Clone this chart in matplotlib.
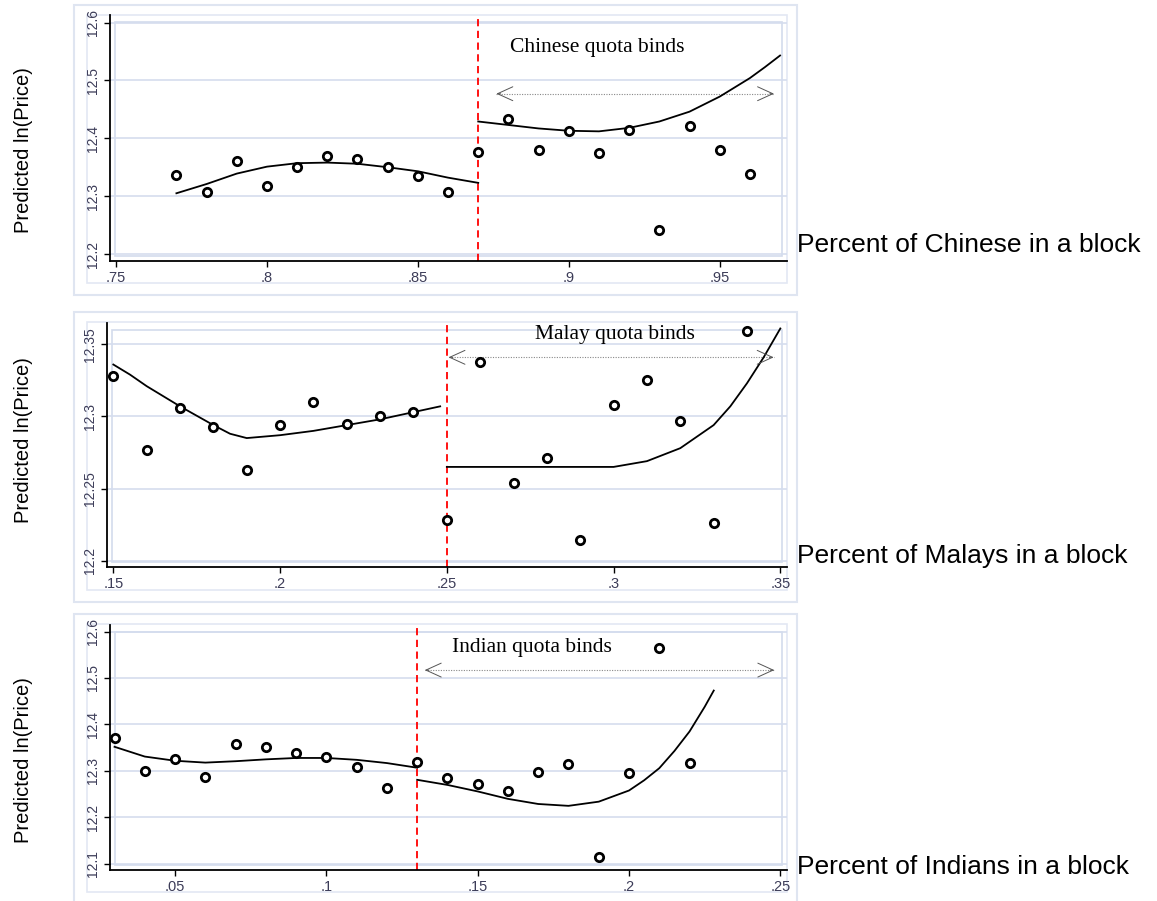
import matplotlib
matplotlib.use('Agg')
import matplotlib.pyplot as plt
from matplotlib.patches import Rectangle

# Figure size in pixels
W, H = 1157, 901

# --- Chinese panel data ---
chinese_x = [.77, .78, .79, .80, .81, .82, .83, .84, .85, .86,
             .87, .88, .89, .90, .91, .92, .93, .94, .95, .96]
chinese_y = [12.337, 12.307, 12.361, 12.318, 12.351, 12.369, 12.365, 12.350, 12.334, 12.307,
             12.377, 12.433, 12.379, 12.412, 12.375, 12.414, 12.241, 12.421, 12.379, 12.338]
chinese_fit_lo_x = [.77, .78, .79, .80, .81, .82, .83, .84, .85, .86, .87]
chinese_fit_lo_y = [12.305, 12.321, 12.339, 12.351, 12.357, 12.358, 12.356, 12.350, 12.343, 12.332, 12.323]
chinese_fit_hi_x = [.87, .88, .89, .90, .91, .92, .93, .94, .95, .955, .96, .965, .97]
chinese_fit_hi_y = [12.429, 12.423, 12.417, 12.413, 12.412, 12.418, 12.429, 12.446, 12.472,
                    12.488, 12.504, 12.523, 12.543]

# --- Malay panel data ---
malay_x = [.15, .16, .17, .18, .19, .20, .21, .22, .23, .24,
           .25, .26, .27, .28, .29, .30, .31, .32, .33, .34]
malay_y = [12.328, 12.277, 12.306, 12.293, 12.263, 12.294, 12.310, 12.295, 12.300, 12.303,
           12.228, 12.338, 12.254, 12.271, 12.214, 12.308, 12.325, 12.297, 12.226, 12.359]
malay_fit_lo_x = [.15, .155, .16, .17, .18, .185, .19, .20, .21, .22, .23, .24, .248]
malay_fit_lo_y = [12.336, 12.329, 12.321, 12.307, 12.294, 12.288, 12.285, 12.287, 12.290,
                  12.294, 12.298, 12.303, 12.307]
malay_fit_hi_x = [.25, .26, .27, .28, .29, .30, .31, .32, .33, .335, .34, .345, .35]
malay_fit_hi_y = [12.265, 12.265, 12.265, 12.265, 12.265, 12.265, 12.269, 12.278, 12.294,
                  12.307, 12.323, 12.341, 12.361]

# --- Indian panel data ---
indian_x = [.03, .04, .05, .06, .07, .08, .09, .10, .11, .12,
            .13, .14, .15, .16, .17, .18, .19, .20, .21, .22]
indian_y = [12.370, 12.299, 12.326, 12.286, 12.358, 12.352, 12.338, 12.331, 12.309, 12.264,
            12.319, 12.284, 12.272, 12.257, 12.297, 12.315, 12.116, 12.296, 12.565, 12.317]
indian_fit_lo_x = [.03, .04, .05, .06, .07, .08, .09, .10, .11, .12, .13]
indian_fit_lo_y = [12.352, 12.331, 12.322, 12.318, 12.321, 12.325, 12.328, 12.328, 12.324, 12.317, 12.307]
indian_fit_hi_x = [.13, .14, .15, .16, .17, .18, .19, .20, .205, .21, .215, .22, .225, .228]
indian_fit_hi_y = [12.281, 12.270, 12.256, 12.240, 12.229, 12.225, 12.234, 12.258, 12.280,
                   12.306, 12.343, 12.385, 12.438, 12.473]

# Tick values / labels
chinese_xticks = [.75, .8, .85, .9, .95]
chinese_xlabels = ['.75', '.8', '.85', '.9', '.95']
chinese_yticks = [12.2, 12.3, 12.4, 12.5, 12.6]
chinese_ylabels = ['12.2', '12.3', '12.4', '12.5', '12.6']
malay_xticks = [.15, .2, .25, .3, .35]
malay_xlabels = ['.15', '.2', '.25', '.3', '.35']
malay_yticks = [12.2, 12.25, 12.3, 12.35]
malay_ylabels = ['12.2', '12.25', '12.3', '12.35']
indian_xticks = [.05, .1, .15, .2, .25]
indian_xlabels = ['.05', '.1', '.15', '.2', '.25']
indian_yticks = [12.1, 12.2, 12.3, 12.4, 12.5, 12.6]
indian_ylabels = ['12.1', '12.2', '12.3', '12.4', '12.5', '12.6']

panels = [
    dict(x=chinese_x, y=chinese_y,
         fits=[(chinese_fit_lo_x, chinese_fit_lo_y), (chinese_fit_hi_x, chinese_fit_hi_y)],
         cut=.87, xlim=(.748, .9723), ylim=(12.188, 12.613),
         xticks=chinese_xticks, xlabels=chinese_xlabels,
         yticks=chinese_yticks, ylabels=chinese_ylabels,
         note='Chinese quota binds', note_xy=(.8805, 12.557),
         arrow=(.876, .968, 12.477),
         xtitle='Percent of Chinese in a block', xtitle_y=245,
         box=(110, 15, 787, 261), off=0, ylab_y=150),
    dict(x=malay_x, y=malay_y,
         fits=[(malay_fit_lo_x, malay_fit_lo_y), (malay_fit_hi_x, malay_fit_hi_y)],
         cut=.25, xlim=(.1481, .352), ylim=(12.1956, 12.3648),
         xticks=malay_xticks, xlabels=malay_xlabels,
         yticks=malay_yticks, ylabels=malay_ylabels,
         note='Malay quota binds', note_xy=(.2765, 12.357),
         arrow=(.2505, .348, 12.341),
         xtitle='Percent of Malays in a block', xtitle_y=556,
         box=(107, 323, 787, 567), off=307, ylab_y=440),
    dict(x=indian_x, y=indian_y,
         fits=[(indian_fit_lo_x, indian_fit_lo_y), (indian_fit_hi_x, indian_fit_hi_y)],
         cut=.13, xlim=(.0285, .2522), ylim=(12.087, 12.614),
         xticks=indian_xticks, xlabels=indian_xlabels,
         yticks=indian_yticks, ylabels=indian_ylabels,
         note='Indian quota binds', note_xy=(.1415, 12.565),
         arrow=(.1325, .248, 12.517),
         xtitle='Percent of Indians in a block', xtitle_y=867,
         box=(110, 625, 787, 870), off=609, ylab_y=760),
]

fig = plt.figure(figsize=(W / 100, H / 100), dpi=100)
fig.patch.set_facecolor('white')


def fig_rect(x0, y0, x1, y1, color, lw):
    r = Rectangle((x0 / W, 1 - y1 / H), (x1 - x0) / W, (y1 - y0) / H,
                  transform=fig.transFigure, fill=False, ec=color, lw=lw, zorder=-1)
    fig.add_artist(r)


tick_color = '#3c3c58'
for p in panels:
    l, t, r, b = p['box']
    o = p['off']
    # Stata-like graph region frames
    fig_rect(74, 5 + o, 797, 295 + o, '#dfe5f1', 1.5)
    fig_rect(87, 15 + o, 787, 283 + o, '#e3e8f3', 1.2)
    fig_rect(l + 5, t + 7, r - 5, b - 5, '#d3dbec', 1.2)

    ax = fig.add_axes([l / W, 1 - b / H, (r - l) / W, (b - t) / H])
    ax.set_facecolor('none')
    ax.set_xlim(*p['xlim'])
    ax.set_ylim(*p['ylim'])
    for s in ['top', 'right']:
        ax.spines[s].set_visible(False)
    for s in ['left', 'bottom']:
        ax.spines[s].set_color('black')
        ax.spines[s].set_linewidth(1.3)

    ax.set_xticks(p['xticks'])
    ax.set_xticklabels(p['xlabels'], fontsize=10.5, color=tick_color, family='Liberation Sans')
    ax.set_yticks(p['yticks'])
    ax.set_yticklabels(p['ylabels'], fontsize=10, color=tick_color, rotation=90,
                       va='center', family='Liberation Sans')
    ax.tick_params(length=4, width=1, color='black', pad=3)
    ax.yaxis.grid(True, color='#d5ddee', lw=1.2)
    ax.set_axisbelow(True)

    ax.axvline(p['cut'], color='red', ls=(0, (4, 2.5)), lw=1.3, zorder=2)
    for fx, fy in p['fits']:
        ax.plot(fx, fy, color='black', lw=1.3, zorder=3)
    ax.plot(p['x'], p['y'], ls='none', marker='o', ms=6, mfc='white',
            mec='black', mew=2.0, zorder=4)

    ax.text(p['note_xy'][0], p['note_xy'][1], p['note'], fontsize=15.5,
            family='Liberation Serif', va='center', ha='left')

    xl, xr, ya = p['arrow']
    ax.plot([xl, xr], [ya, ya], color='#888888', ls=(0, (1, 1.3)), lw=0.8)
    for xe, d in [(xr, -3), (xl, 3)]:
        ax.annotate('', xy=(xe, ya), xytext=(d, 0), textcoords='offset points',
                    arrowprops=dict(arrowstyle='->,head_length=1.1,head_width=0.5',
                                    color='#555555', lw=0.7, mutation_scale=10,
                                    shrinkA=0, shrinkB=0))

    fig.text(797 / W, 1 - p['xtitle_y'] / H, p['xtitle'], fontsize=19,
             family='Liberation Sans', va='center', ha='left')
    fig.text(24 / W, 1 - p['ylab_y'] / H, 'Predicted ln(Price)', fontsize=14.5,
             family='Liberation Sans', va='center', ha='center', rotation=90)

fig.savefig('out.png', dpi=100)
